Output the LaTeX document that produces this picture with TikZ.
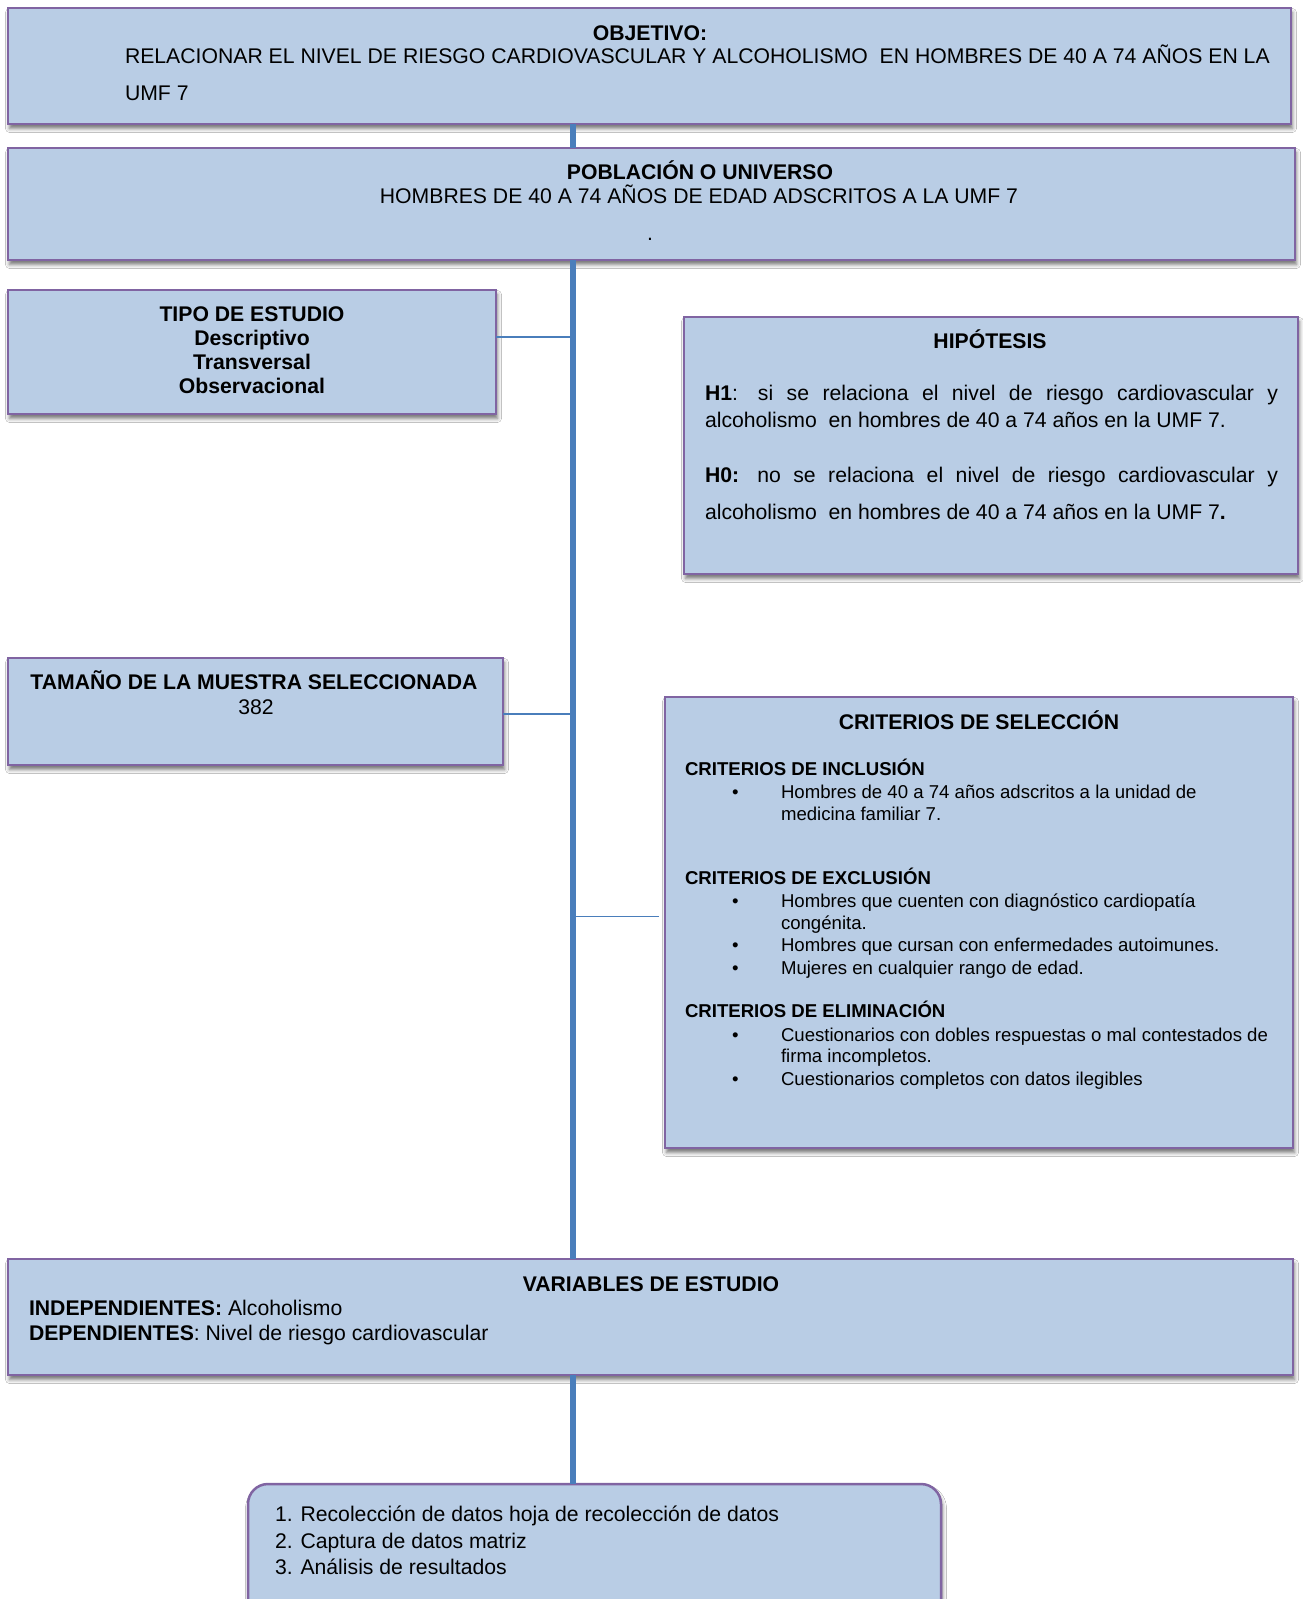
\documentclass[tikz,border=0pt]{standalone}
\usepackage{fontspec}
\setmainfont{Liberation Sans}
\usetikzlibrary{shadows.blur}
\definecolor{boxfill}{HTML}{B9CDE5}
\definecolor{boxline}{HTML}{8064A2}
\definecolor{spinecol}{HTML}{4A7EBB}
\tikzset{
  box/.style={draw=boxline, line width=2.5pt, fill=boxfill, anchor=north west, inner sep=0pt, outer sep=0pt,
    blur shadow={shadow xshift=1.5pt, shadow yshift=-4.5pt, shadow blur radius=4pt, shadow opacity=55}},
  txt/.style={inner sep=0pt, outer sep=0pt, font=\fontsize{21.2}{25}\selectfont, anchor=base},
  txtl/.style={txt, anchor=base west},
  small/.style={inner sep=0pt, outer sep=0pt, font=\fontsize{18.6}{22}\selectfont, anchor=base west},
  spine/.style={draw=spinecol, line width=5.5pt},
  branch/.style={draw=spinecol, line width=1.5pt},
}
\begin{document}
\begin{tikzpicture}[x=1pt,y=-1pt]
\useasboundingbox (0,0) rectangle (1303,1599);
\fill[white] (0,0) rectangle (1303,1599);
\coordinate (sx) at (573,0);

% boxes
\node[box, minimum width=1283pt, minimum height=116pt] (obj) at (8,8) {};
\node[box, minimum width=1287pt, minimum height=112pt] (pob) at (8,148) {};
\node[box, minimum width=488pt, minimum height=124pt] (tipo) at (8,290) {};
\node[box, minimum width=614pt, minimum height=257pt] (hip) at (684,317) {};
\node[box, minimum width=495pt, minimum height=107pt] (tam) at (8,658) {};
\node[box, minimum width=628pt, minimum height=451pt] (crit) at (665,697) {};
\node[box, minimum width=1285pt, minimum height=116pt] (var) at (8,1259) {};
\node[box, rounded corners=20pt, minimum width=693pt, minimum height=170pt] (fin) at (248,1484) {};

% connectors
\draw[spine] (obj.south -| sx) -- (pob.north -| sx);
\draw[spine] (pob.south -| sx) -- (var.north -| sx);
\draw[spine] (var.south -| sx) -- (fin.north -| sx);
\draw[branch] ([yshift=15pt]tipo.east) -- ([yshift=15pt]tipo.east -| sx);
\draw[branch] ([yshift=-2.5pt]tam.east) -- ([yshift=-2.5pt]tam.east -| sx);
\draw[branch] ([xshift=-6pt,yshift=6pt]crit.west) -- ([yshift=6pt]crit.west -| sx);

% objetivo
\node[txt] (o1) at (650,40) {\textbf{OBJETIVO:}};
\node[txtl] (o2) at (125,63) {RELACIONAR EL NIVEL DE RIESGO CARDIOVASCULAR Y ALCOHOLISMO\ \ EN HOMBRES DE 40 A 74 AÑOS EN LA};
\node[txtl] (o3) at (125,100) {UMF 7};

% poblacion
\node[txt] (p1) at (700,179) {\textbf{POBLACIÓN O UNIVERSO}};
\node[txt] (p2) at (699,203) {HOMBRES DE 40 A 74 AÑOS DE EDAD ADSCRITOS A LA UMF 7};
\node[txt] (p3) at (650,240) {.};

% tipo
\node[txt] (t1) at (252,321) {\textbf{TIPO DE ESTUDIO}};
\node[txt] (t2) at (252,345) {\textbf{Descriptivo}};
\node[txt] (t3) at (252,369) {\textbf{Transversal}};
\node[txt] (t4) at (252,393) {\textbf{Observacional}};

% hipotesis
\node[txt] (h0t) at (990,348) {\textbf{HIPÓTESIS}};
\node[txtl] (h1a) at (705,400) {\makebox[573pt][s]{\textbf{H1}:\hspace{-3pt} si se relaciona el nivel de riesgo cardiovascular y}};
\node[txtl] (h1b) at (705,427) {alcoholismo\ \ en hombres de 40 a 74 años en la UMF 7.};
\node[txtl] (h0a) at (705,482) {\makebox[573pt][s]{\textbf{H0:}\hspace{-3pt} no se relaciona el nivel de riesgo cardiovascular y}};
\node[txtl] (h0b) at (705,519) {alcoholismo\ \ en hombres de 40 a 74 años en la UMF 7\textbf{.}};

% tamano
\node[txt] (m1) at (254,689) {\textbf{TAMAÑO DE LA MUESTRA SELECCIONADA}};
\node[txt] (m2) at (256,714) {382};

% criterios
\node[txt] (c0) at (979,729) {\textbf{CRITERIOS DE SELECCIÓN}};
\node[small] (ci) at (685,775) {\textbf{CRITERIOS DE INCLUSIÓN}};
\node[small] (b1) at (732,798) {•};
\node[small] (ci1) at (781,798) {Hombres de 40 a 74 años adscritos a la unidad de};
\node[small] (ci2) at (781,820) {medicina familiar 7.};
\node[small] (ce) at (685,884) {\textbf{CRITERIOS DE EXCLUSIÓN}};
\node[small] (b2) at (732,907) {•};
\node[small] (ce1) at (781,907) {Hombres que cuenten con diagnóstico cardiopatía};
\node[small] (ce2) at (781,929) {congénita.};
\node[small] (b3) at (732,951) {•};
\node[small] (ce3) at (781,951) {Hombres que cursan con enfermedades autoimunes.};
\node[small] (b4) at (732,974) {•};
\node[small] (ce4) at (781,974) {Mujeres en cualquier rango de edad.};
\node[small] (cl) at (685,1017) {\textbf{CRITERIOS DE ELIMINACIÓN}};
\node[small] (b5) at (732,1041) {•};
\node[small] (cl1) at (781,1041) {Cuestionarios con dobles respuestas o mal contestados de};
\node[small] (cl2) at (781,1062) {firma incompletos.};
\node[small] (b6) at (732,1085) {•};
\node[small] (cl3) at (781,1085) {Cuestionarios completos con datos ilegibles};

% variables
\node[txt] (v0) at (651,1291) {\textbf{VARIABLES DE ESTUDIO}};
\node[txtl] (v1) at (29,1315) {\textbf{INDEPENDIENTES:} Alcoholismo};
\node[txtl] (v2) at (29,1340) {\textbf{DEPENDIENTES}: Nivel de riesgo cardiovascular};

% final
\node[txtl] (f1) at (275,1521) {1. Recolección de datos hoja de recolección de datos};
\node[txtl] (f2) at (275,1548) {2. Captura de datos matriz};
\node[txtl] (f3) at (275,1574) {3. Análisis de resultados};
\end{tikzpicture}
\end{document}
